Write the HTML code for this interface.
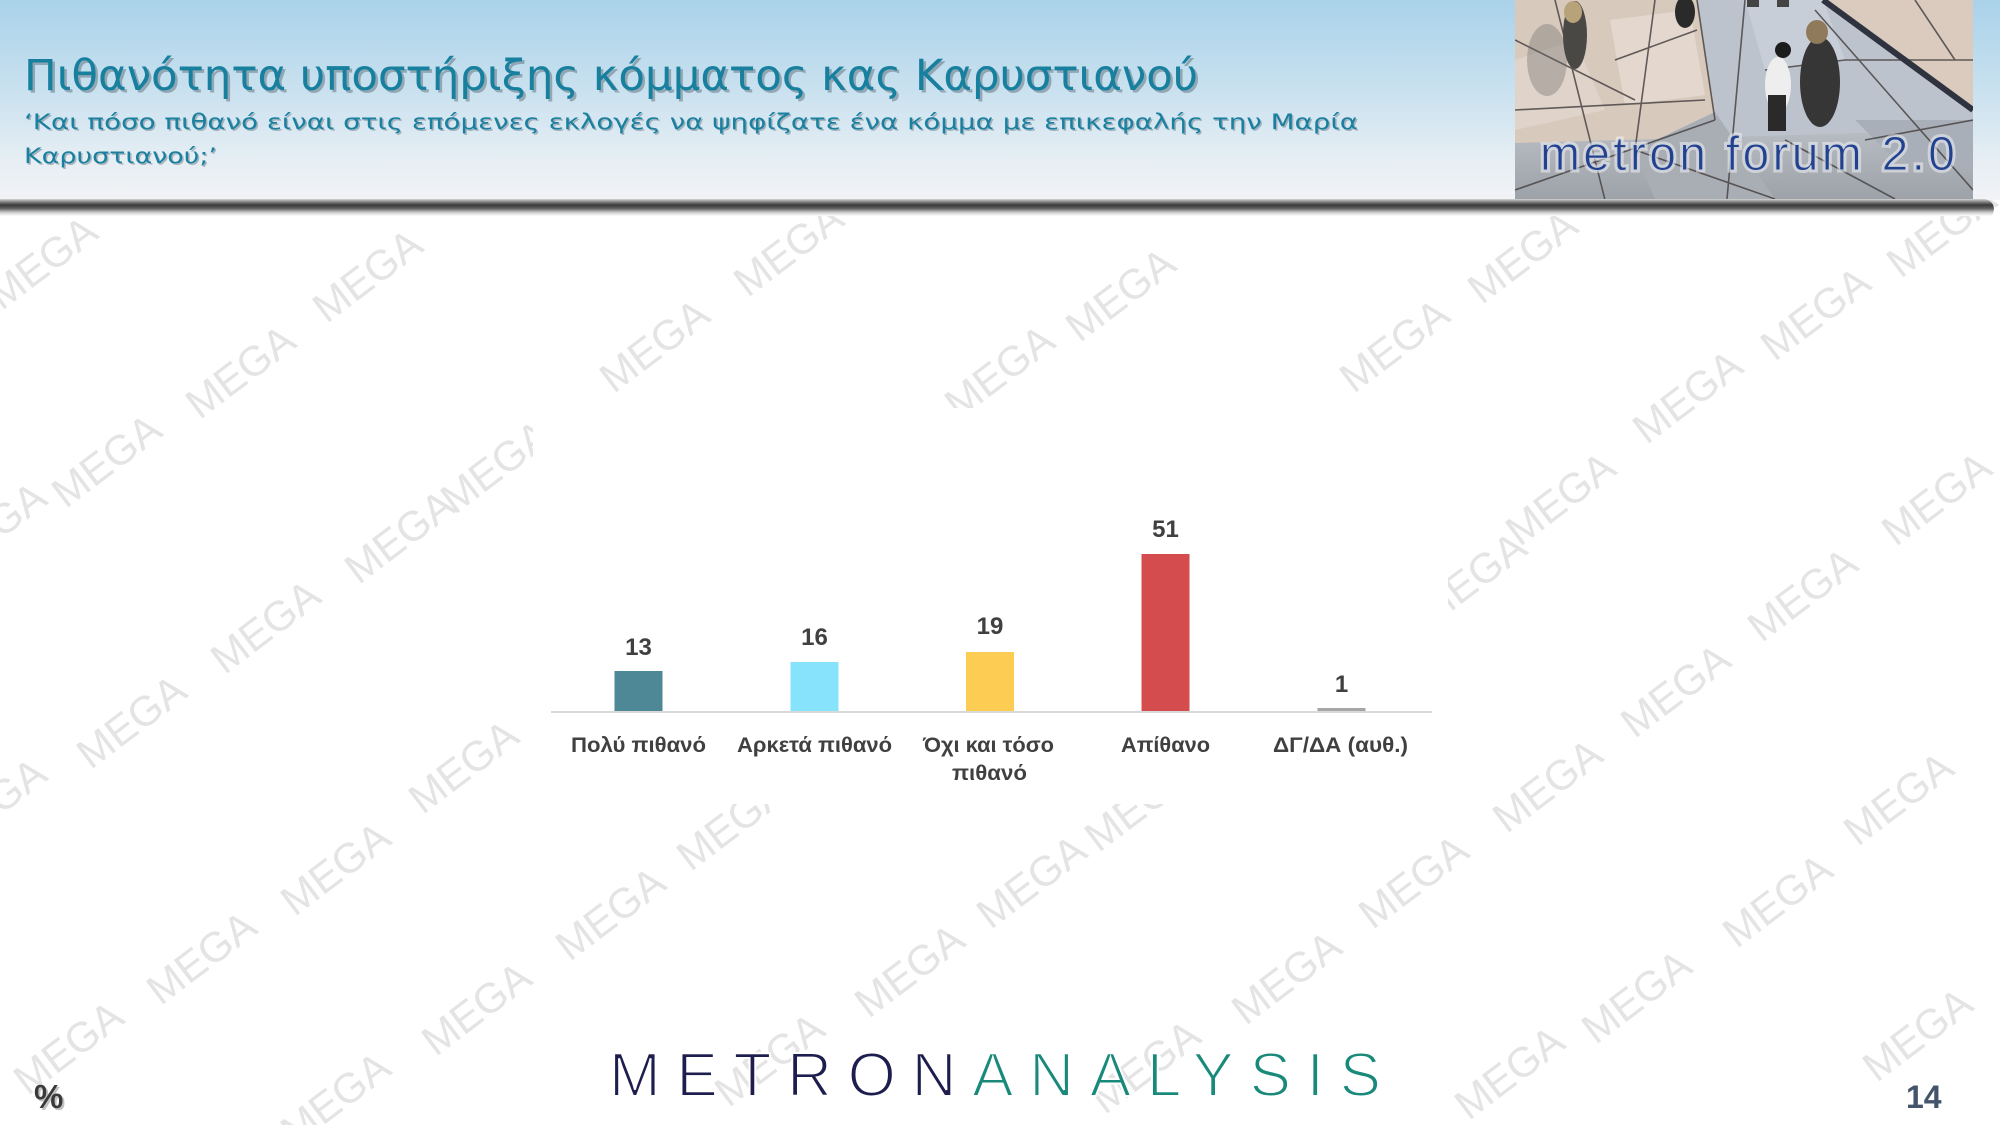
<!DOCTYPE html>
<html>
<head>
<meta charset="utf-8">
<style>
  html,body{margin:0;padding:0;background:#fff;}
  svg{display:block;}
</style>
</head>
<body>
<svg width="2000" height="1125" viewBox="0 0 2000 1125" xmlns="http://www.w3.org/2000/svg">
  <defs>
    <linearGradient id="hdr" x1="0" y1="0" x2="0" y2="1">
      <stop offset="0" stop-color="#a9d2ea"/>
      <stop offset="0.45" stop-color="#c9e1ef"/>
      <stop offset="0.8" stop-color="#e6eef4"/>
      <stop offset="1" stop-color="#f2f3f5"/>
    </linearGradient>
    <linearGradient id="shd" x1="0" y1="0" x2="0" y2="1">
      <stop offset="0" stop-color="#d6d6d6"/>
      <stop offset="0.15" stop-color="#8c8c8c"/>
      <stop offset="0.35" stop-color="#3a3a3a"/>
      <stop offset="0.55" stop-color="#5e5e5e"/>
      <stop offset="0.8" stop-color="#cfcfcf"/>
      <stop offset="1" stop-color="#ffffff"/>
    </linearGradient>
    <linearGradient id="photoBottom" x1="0" y1="0" x2="0" y2="1">
      <stop offset="0" stop-color="#b8bcc3"/>
      <stop offset="1" stop-color="#9da2a9"/>
    </linearGradient>
    <clipPath id="photoClip"><rect x="0" y="0" width="458" height="199"/></clipPath>
  </defs>

  <!-- background -->
  <rect x="0" y="0" width="2000" height="1125" fill="#ffffff"/>

  <!-- watermarks -->
  <g font-family="Liberation Sans, sans-serif" font-size="42" fill="#e4e4e4" text-anchor="middle">
    <text transform="translate(51,274) rotate(-37)">MEGA</text>
    <text transform="translate(376,287) rotate(-37)">MEGA</text>
    <text transform="translate(797,261) rotate(-37)">MEGA</text>
    <text transform="translate(1129,306) rotate(-37)">MEGA</text>
    <text transform="translate(1531,268) rotate(-37)">MEGA</text>
    <text transform="translate(1403,357) rotate(-37)">MEGA</text>
    <text transform="translate(1824,325) rotate(-37)">MEGA</text>
    <text transform="translate(1950,242) rotate(-37)">MEGA</text>
    <text transform="translate(663,357) rotate(-37)">MEGA</text>
    <text transform="translate(1008,383) rotate(-37)">MEGA</text>
    <text transform="translate(249,383) rotate(-37)">MEGA</text>
    <text transform="translate(115,472) rotate(-37)">MEGA</text>
    <text transform="translate(504,478) rotate(-37)">MEGA</text>
    <text transform="translate(1696,408) rotate(-37)">MEGA</text>
    <text transform="translate(1569,510) rotate(-37)">MEGA</text>
    <text transform="translate(1945,510) rotate(-37)">MEGA</text>
    <text transform="translate(408,548) rotate(-37)">MEGA</text>
    <text transform="translate(274,638) rotate(-37)">MEGA</text>
    <text transform="translate(1811,606) rotate(-37)">MEGA</text>
    <text transform="translate(1480,590) rotate(-37)">MEGA</text>
    <text transform="translate(0,540) rotate(-37)">MEGA</text>
    <text transform="translate(140,733) rotate(-37)">MEGA</text>
    <text transform="translate(1684,702) rotate(-37)">MEGA</text>
    <text transform="translate(472,778) rotate(-37)">MEGA</text>
    <text transform="translate(1556,797) rotate(-37)">MEGA</text>
    <text transform="translate(1907,810) rotate(-37)">MEGA</text>
    <text transform="translate(0,816) rotate(-37)">MEGA</text>
    <text transform="translate(740,835) rotate(-37)">MEGA</text>
    <text transform="translate(1148,816) rotate(-37)">MEGA</text>
    <text transform="translate(344,880) rotate(-37)">MEGA</text>
    <text transform="translate(1040,893) rotate(-37)">MEGA</text>
    <text transform="translate(1422,893) rotate(-37)">MEGA</text>
    <text transform="translate(210,969) rotate(-37)">MEGA</text>
    <text transform="translate(619,925) rotate(-37)">MEGA</text>
    <text transform="translate(1786,912) rotate(-37)">MEGA</text>
    <text transform="translate(918,982) rotate(-37)">MEGA</text>
    <text transform="translate(1295,989) rotate(-37)">MEGA</text>
    <text transform="translate(1645,1008) rotate(-37)">MEGA</text>
    <text transform="translate(77,1059) rotate(-37)">MEGA</text>
    <text transform="translate(485,1020) rotate(-37)">MEGA</text>
    <text transform="translate(778,1071) rotate(-37)">MEGA</text>
    <text transform="translate(1154,1078) rotate(-37)">MEGA</text>
    <text transform="translate(1518,1084) rotate(-37)">MEGA</text>
    <text transform="translate(1926,1046) rotate(-37)">MEGA</text>
    <text transform="translate(344,1110) rotate(-37)">MEGA</text>
  </g>

  <!-- chart white area -->
  <rect x="533" y="408" width="915" height="396" fill="#ffffff"/>

  <!-- header -->
  <rect x="0" y="0" width="2000" height="200" fill="url(#hdr)"/>
  <path d="M0,199 L1985,199 Q1998,203 1992,216 L0,216 Z" fill="url(#shd)"/>

  <!-- title -->
  <g font-family="DejaVu Sans, Liberation Sans, sans-serif">
    <text x="26.5" y="92.5" font-size="43" fill="#5f6f7a" opacity="0.5" textLength="1174" lengthAdjust="spacingAndGlyphs">Πιθανότητα υποστήριξης κόμματος κας Καρυστιανού</text>
    <text x="24" y="90" font-size="43" fill="#17809f" textLength="1174" lengthAdjust="spacingAndGlyphs">Πιθανότητα υποστήριξης κόμματος κας Καρυστιανού</text>
    <text x="25.5" y="130.5" font-size="21.5" fill="#5f6f7a" opacity="0.45" textLength="1334" lengthAdjust="spacingAndGlyphs">‘Και πόσο πιθανό είναι στις επόμενες εκλογές να ψηφίζατε ένα κόμμα με επικεφαλής την Μαρία</text>
    <text x="24" y="129" font-size="21.5" fill="#1a80a0" textLength="1334" lengthAdjust="spacingAndGlyphs">‘Και πόσο πιθανό είναι στις επόμενες εκλογές να ψηφίζατε ένα κόμμα με επικεφαλής την Μαρία</text>
    <text x="25.5" y="164.5" font-size="21.5" fill="#5f6f7a" opacity="0.45" textLength="193" lengthAdjust="spacingAndGlyphs">Καρυστιανού;’</text>
    <text x="24" y="163" font-size="21.5" fill="#1a80a0" textLength="193" lengthAdjust="spacingAndGlyphs">Καρυστιανού;’</text>
  </g>

  <!-- photo logo -->
  <g transform="translate(1515,0)">
    <g clip-path="url(#photoClip)">
      <rect x="0" y="0" width="458" height="199" fill="#bcc3cc"/>
      <polygon points="0,0 182,0 200,112 120,150 0,178" fill="#d8c9bd"/>
      <polygon points="308,0 458,0 458,110" fill="#dacbbe"/>
      <polygon points="230,0 308,0 330,60 250,70" fill="#c8ced7"/>
      <polygon points="0,143 458,130 458,199 0,199" fill="url(#photoBottom)"/>
      <polygon points="120,150 200,112 260,199 140,199" fill="#a9aeb5"/>
      <polygon points="0,60 60,40 90,110 0,130" fill="#e0d3c9"/>
      <polygon points="95,20 175,10 190,95 110,105" fill="#e4d8ce"/>
      <polygon points="340,120 458,120 458,170 380,160" fill="#a8afb8"/>
      <g stroke="#4a4545" stroke-width="1.6" fill="none" opacity="0.85">
        <line x1="0" y1="40" x2="120" y2="100"/>
        <line x1="40" y1="0" x2="90" y2="200"/>
        <line x1="182" y1="0" x2="200" y2="120"/>
        <line x1="200" y1="120" x2="0" y2="190"/>
        <line x1="230" y1="0" x2="212" y2="199"/>
        <line x1="300" y1="10" x2="458" y2="190"/>
        <line x1="330" y1="60" x2="458" y2="60"/>
        <line x1="100" y1="60" x2="182" y2="30"/>
        <line x1="0" y1="110" x2="190" y2="100"/>
        <line x1="120" y1="150" x2="260" y2="199"/>
        <line x1="350" y1="140" x2="458" y2="120"/>
        <line x1="140" y1="0" x2="120" y2="150"/>
        <line x1="250" y1="70" x2="330" y2="60"/>
        <line x1="270" y1="140" x2="380" y2="199"/>
        <line x1="400" y1="0" x2="440" y2="60"/>
      </g>
      <line x1="308" y1="0" x2="458" y2="110" stroke="#2f3340" stroke-width="6"/>
      <!-- people -->
      <ellipse cx="32" cy="60" rx="20" ry="36" fill="#666" opacity="0.35"/>
      <ellipse cx="60" cy="35" rx="12" ry="34" fill="#4a4845"/>
      <ellipse cx="58" cy="12" rx="9" ry="11" fill="#b8a27a"/>
      <ellipse cx="170" cy="12" rx="10" ry="16" fill="#2a2a2a"/>
      <rect x="232" y="0" width="12" height="7" fill="#444"/>
      <rect x="262" y="0" width="12" height="7" fill="#444"/>
      <ellipse cx="263" cy="85" rx="13" ry="28" fill="#eeeeee"/>
      <rect x="253" y="95" width="18" height="36" fill="#2a2a2a"/>
      <circle cx="268" cy="50" r="8" fill="#1c1c1c"/>
      <ellipse cx="305" cy="82" rx="20" ry="45" fill="#363636"/>
      <ellipse cx="302" cy="32" rx="11" ry="12" fill="#8f7b5c"/>
    </g>
    <text x="25" y="170" font-family="Liberation Sans, DejaVu Sans, sans-serif" font-size="48" fill="none" stroke="#ffffff" stroke-width="5" opacity="0.45" textLength="415" lengthAdjust="spacing">metron forum 2.0</text>
    <text x="25" y="170" font-family="Liberation Sans, DejaVu Sans, sans-serif" font-size="48" fill="#22418f" stroke="#c9d0dc" stroke-width="1" textLength="415" lengthAdjust="spacing">metron forum 2.0</text>
  </g>

  <!-- chart -->
  <g>
    <rect x="614.5" y="671" width="48" height="40" fill="#4e8796"/>
    <rect x="790.5" y="662" width="48" height="49" fill="#86e3fb"/>
    <rect x="966" y="652" width="48" height="59" fill="#fccd52"/>
    <rect x="1141.5" y="554" width="48" height="157" fill="#d44c4e"/>
    <rect x="1317.5" y="708" width="48" height="3" fill="#a6a6a6"/>
    <line x1="551" y1="712" x2="1432" y2="712" stroke="#d9d9d9" stroke-width="2"/>
  </g>
  <g font-family="Liberation Sans, sans-serif" font-weight="bold" fill="#404040" text-anchor="middle">
    <text x="638.5" y="655" font-size="24">13</text>
    <text x="814.5" y="645" font-size="24">16</text>
    <text x="990" y="634" font-size="24">19</text>
    <text x="1165.5" y="537" font-size="24">51</text>
    <text x="1341.5" y="692" font-size="24">1</text>
  </g>
  <g font-family="Liberation Sans, sans-serif" font-weight="bold" fill="#404040" font-size="21">
    <text x="571" y="752" textLength="135" lengthAdjust="spacingAndGlyphs">Πολύ πιθανό</text>
    <text x="737" y="752" textLength="155" lengthAdjust="spacingAndGlyphs">Αρκετά πιθανό</text>
    <text x="923" y="752" textLength="131" lengthAdjust="spacingAndGlyphs">Όχι και τόσο</text>
    <text x="952" y="780" textLength="75" lengthAdjust="spacingAndGlyphs">πιθανό</text>
    <text x="1121" y="752" textLength="89" lengthAdjust="spacingAndGlyphs">Απίθανο</text>
    <text x="1273" y="752" textLength="135" lengthAdjust="spacingAndGlyphs">ΔΓ/ΔΑ (αυθ.)</text>
  </g>

  <!-- footer -->
  <text x="609" y="1096" font-family="Liberation Sans, sans-serif" font-size="62" stroke="#ffffff" stroke-width="2" textLength="772" lengthAdjust="spacing"><tspan fill="#1d1e4e">METRON</tspan><tspan fill="#19897a">ANALYSIS</tspan></text>

  <text x="36" y="1110" font-family="Liberation Sans, sans-serif" font-weight="bold" font-size="33" fill="#9a9a9a" opacity="0.6">%</text>
  <text x="34" y="1108" font-family="Liberation Sans, sans-serif" font-weight="bold" font-size="33" fill="#3a3a3a">%</text>
  <text x="1906" y="1108" font-family="Liberation Sans, sans-serif" font-weight="bold" font-size="32" fill="#44546a">14</text>
</svg>
</body>
</html>
